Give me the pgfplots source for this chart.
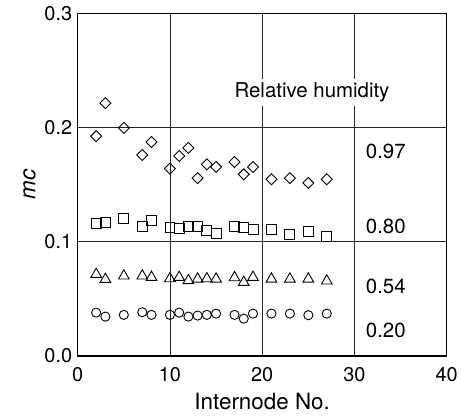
\documentclass[border=0pt]{standalone}
\usepackage{fontspec}
\setmainfont{TeX Gyre Heros}
\usepackage{pgfplots}
\pgfplotsset{compat=1.18}
\begin{document}
\begin{tikzpicture}[x=1bp,y=1bp]
\begin{axis}[
  scale only axis,
  width=369bp, height=342.7bp,
  xmin=0, xmax=40, ymin=0, ymax=0.3,
  xtick={0,10,20,30,40},
  ytick={0,0.1,0.2,0.3},
  major tick length=0pt,
  /pgf/number format/assume math mode=true,
  yticklabel style={/pgf/number format/fixed, /pgf/number format/fixed zerofill, /pgf/number format/precision=1, xshift=-2pt},
  ticklabel style={font=\fontsize{20}{24}\selectfont},
  xticklabel style={yshift=-8pt},
  grid=major,
  major grid style={black!85, line width=0.6pt},
  axis line style={line width=1.6pt},
  xlabel={Internode No.},
  ylabel={\textit{mc}},
  label style={font=\fontsize{22.5}{26}\selectfont},
  xlabel style={yshift=-4pt},
  ylabel style={yshift=2pt},
  clip=false,
]
\addplot[only marks, mark=square, mark size=3.9pt, mark options={rotate=45, line width=0.9pt, black}] coordinates {
(2,0.1924)(3,0.2213)(5,0.1997)(7,0.1760)(8,0.1874)(10,0.1640)(11,0.1751)(12,0.1822)(13,0.1558)(14,0.1678)(15,0.1655)(17,0.1699)(18,0.1590)(19,0.1655)(21,0.1547)(23,0.1558)(25,0.1515)(27,0.1547)
};
\addplot[only marks, mark=square, mark size=5pt, mark options={line width=0.9pt, black}] coordinates {
(2,0.1158)(3,0.1170)(5,0.1202)(7,0.1132)(8,0.1187)(10,0.1129)(11,0.1114)(12,0.1135)(13,0.1132)(14,0.1102)(15,0.1073)(17,0.1132)(18,0.1126)(19,0.1105)(21,0.1105)(23,0.1061)(25,0.1094)(27,0.1047)
};
\addplot[only marks, mark=triangle, mark size=6.2pt, mark options={line width=0.9pt, black}] coordinates {
(2,0.0715)(3,0.0671)(5,0.0701)(7,0.0701)(8,0.0689)(10,0.0677)(11,0.0689)(12,0.0660)(13,0.0674)(14,0.0677)(15,0.0674)(17,0.0686)(18,0.0645)(19,0.0689)(21,0.0674)(23,0.0674)(25,0.0674)(27,0.0657)
};
\addplot[only marks, mark=o, mark size=4.6pt, mark options={line width=0.9pt, black}] coordinates {
(2,0.0380)(3,0.0345)(5,0.0360)(7,0.0383)(8,0.0360)(10,0.0360)(11,0.0380)(12,0.0345)(13,0.0354)(14,0.0360)(15,0.0371)(17,0.0360)(18,0.0327)(19,0.0371)(21,0.0371)(23,0.0371)(25,0.0357)(27,0.0371)
};
\node[fill=white, inner sep=4pt, font=\fontsize{20.5}{24}\selectfont] at (axis cs:25.4,0.2307) {Relative humidity};
\node[font=\fontsize{20.5}{24}\selectfont] at (axis cs:33.4,0.179) {0.97};
\node[font=\fontsize{20.5}{24}\selectfont] at (axis cs:33.4,0.1134) {0.80};
\node[font=\fontsize{20.5}{24}\selectfont] at (axis cs:33.4,0.0608) {0.54};
\node[font=\fontsize{20.5}{24}\selectfont] at (axis cs:33.4,0.0228) {0.20};
\end{axis}
\pgfresetboundingbox
\path (-77.7bp,-61bp) rectangle (383.3bp,356bp);
\end{tikzpicture}
\end{document}
